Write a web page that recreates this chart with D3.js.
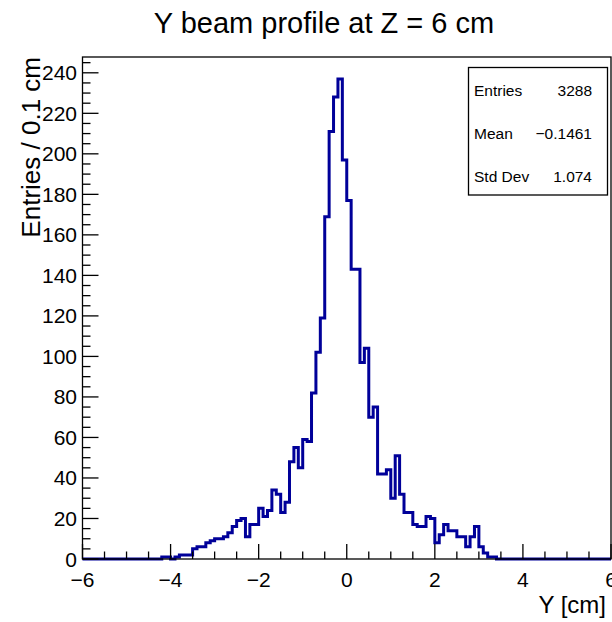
<!DOCTYPE html>
<html>
<head>
<meta charset="utf-8">
<script src="https://cdn.jsdelivr.net/npm/d3@7"></script>
<style>
  html, body { margin: 0; padding: 0; background: #fff; }
  svg { display: block; font-family: "Liberation Sans", Arial, Helvetica, sans-serif; }
</style>
</head>
<body>
<svg id="chart" width="612" height="622"></svg>
<script>
// ---------------- data ----------------
const title = "Y beam profile at Z = 6 cm";
const xTitle = "Y [cm]";
const yTitle = "Entries / 0.1 cm";
const xRange = [-6, 6];
const binWidth = 0.1;
// counts for the 120 bins from -6 to 6 (0.1 cm each)
const counts = [
  0,0,0,0,0,0,0,0,0,0, 0,0,0,0,0,0,0,0,1,1,       // -6.0 .. -4.0
  0,1,2,2,2,5,6,6,8,9, 10,10,11,13,16,19,20,11,17,17, // -4.0 .. -2.0
  25,21,24,34,32,23,28,48,55,45, 59,58,82,102,119,169,211,228,237,197, // -2.0 .. 0.0
  177,143,143,97,104,70,75,42,42,44, 30,51,32,23,23,17,16,16,21,20,   // 0.0 .. 2.0
  8,12,17,14,14,11,11,6,11,16, 6,3,1,1,0,0,0,0,0,0,   // 2.0 .. 4.0
  0,0,0,0,0,0,0,0,0,0, 0,0,0,0,0,0,0,0,0,0            // 4.0 .. 6.0
];
const xTickValues = [-6, -4, -2, 0, 2, 4, 6];
const yTickValues = [0, 20, 40, 60, 80, 100, 120, 140, 160, 180, 200, 220, 240];
const yMax = 247.8;
const statLabels = ["Entries", "Mean", "Std Dev"];
const statValues = ["3288", "\u22120.1461", "1.074"];

// ---------------- layout ----------------
const svg = d3.select("#chart");
const L = 82.5, R = 611, T = 57, B = 559;
const x = d3.scaleLinear().domain(xRange).range([L, R]);
const y = d3.scaleLinear().domain([0, yMax]).range([B, T]);
const lineColor = "#000099";
const fmt = v => (v < 0 ? "\u2212" + Math.abs(v) : String(v));

// title
svg.append("text").attr("x", 324).attr("y", 33).attr("text-anchor", "middle")
  .attr("font-size", 29).text(title);

// histogram outline
const pts = counts.map((c, i) => [xRange[0] + i * binWidth, c]);
pts.push([xRange[1], counts[counts.length - 1]]);
const line = d3.line().x(d => x(d[0])).y(d => y(d[1])).curve(d3.curveStepAfter);
svg.append("path").attr("d", line(pts)).attr("fill", "none")
  .attr("stroke", lineColor).attr("stroke-width", 3).attr("stroke-linejoin", "miter");

// frame
svg.append("rect").attr("x", L).attr("y", T).attr("width", R - L).attr("height", B - T)
  .attr("fill", "none").attr("stroke", "#000").attr("stroke-width", 1.3);

// x axis ticks (inside, upward)
const gx = svg.append("g");
const xMinor = d3.range(-6, 6.001, 0.5);
gx.selectAll("line.minor").data(xMinor).enter().append("line")
  .attr("x1", d => x(d)).attr("x2", d => x(d))
  .attr("y1", B).attr("y2", d => (Math.abs(d % 2) < 1e-9 ? B - 15 : B - 7.5))
  .attr("stroke", "#000").attr("stroke-width", 1.3);
gx.selectAll("text").data(xTickValues).enter().append("text")
  .attr("x", d => x(d)).attr("y", 587).attr("text-anchor", "middle")
  .attr("font-size", 21).text(fmt);

// y axis ticks (inside, rightward)
const gy = svg.append("g");
const yMinor = d3.range(0, yMax, 5);
gy.selectAll("line").data(yMinor).enter().append("line")
  .attr("x1", L).attr("x2", d => (d % 20 === 0 ? L + 16 : L + 8))
  .attr("y1", d => y(d)).attr("y2", d => y(d))
  .attr("stroke", "#000").attr("stroke-width", 1.3);
gy.selectAll("text").data(yTickValues).enter().append("text")
  .attr("x", 77).attr("y", d => y(d) + 7.5).attr("text-anchor", "end")
  .attr("font-size", 21).text(fmt);

// axis titles
svg.append("text").attr("x", 606).attr("y", 613).attr("text-anchor", "end")
  .attr("font-size", 24).text(xTitle);
svg.append("text").attr("transform", "translate(40,57) rotate(-90)")
  .attr("text-anchor", "end").attr("font-size", 26).text(yTitle);

// stats box
const sb = svg.append("g");
sb.append("rect").attr("x", 468.5).attr("y", 67.5).attr("width", 139).attr("height", 127.5)
  .attr("fill", "#fff").attr("stroke", "#000").attr("stroke-width", 1.3);
const statY = [95.5, 138.5, 181.5];
sb.selectAll("text.lab").data(statLabels).enter().append("text")
  .attr("x", 474).attr("y", (d, i) => statY[i]).attr("font-size", 15.5).text(d => d);
sb.selectAll("text.val").data(statValues).enter().append("text")
  .attr("x", 592).attr("y", (d, i) => statY[i]).attr("text-anchor", "end")
  .attr("font-size", 15.5).text(d => d);
</script>
</body>
</html>
